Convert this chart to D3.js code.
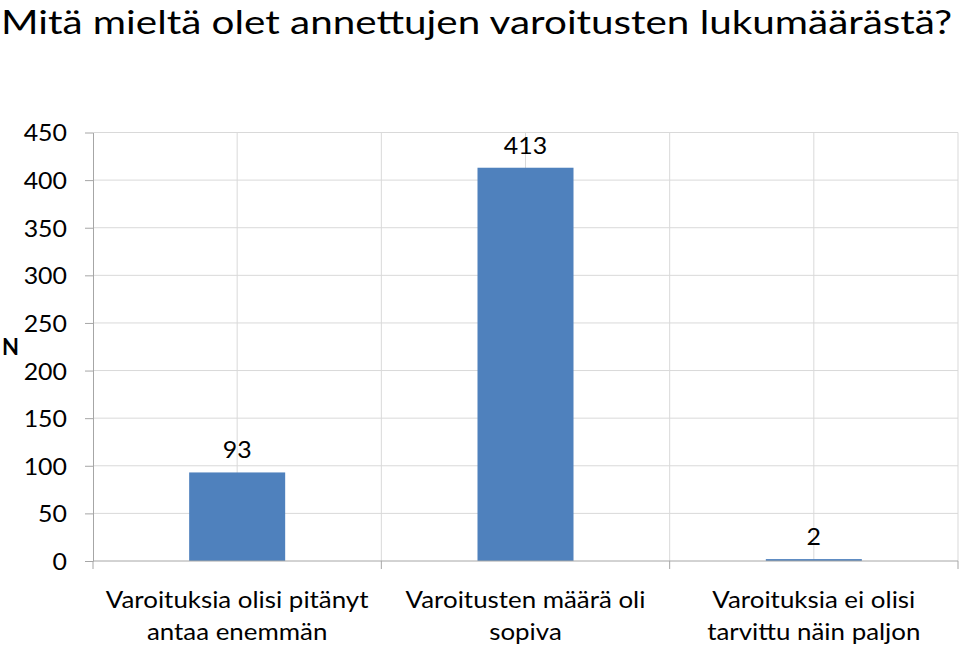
<!DOCTYPE html>
<html><head><meta charset="utf-8">
<script src="https://cdnjs.cloudflare.com/ajax/libs/d3/7.8.5/d3.min.js"></script>
<style>body{margin:0;background:#fff}svg{display:block}text{font-family:Lato,"Open Sans",sans-serif;fill:#000}</style>
</head><body>
<svg id="c" width="960" height="647"></svg>
<script>
const title = "Mitä mieltä olet annettujen varoitusten lukumäärästä?";
const categories = [
  ["Varoituksia olisi pitänyt", "antaa enemmän"],
  ["Varoitusten määrä oli", "sopiva"],
  ["Varoituksia ei olisi", "tarvittu näin paljon"]
];
const values = [93, 413, 2];
const yTicks = [0, 50, 100, 150, 200, 250, 300, 350, 400, 450];
const yTitle = "N";

const svg = d3.select("#c");
const L = 93, R = 958, T = 132.5, B = 561;
const x = d3.scaleBand().domain(d3.range(categories.length)).range([L, R]).paddingInner(0).paddingOuter(0);
const y = d3.scaleLinear().domain([0, 450]).range([B, T]);
const bw = x.bandwidth() * 96 / 288.3;

function stretch(sel, k) {
  sel.each(function () {
    const len = this.getComputedTextLength();
    d3.select(this).attr("textLength", len * k).attr("lengthAdjust", "spacingAndGlyphs");
  });
}

// horizontal gridlines
svg.append("g").selectAll("line").data(yTicks.filter(d => d > 0)).join("line")
  .attr("x1", L).attr("x2", R).attr("y1", d => y(d)).attr("y2", d => y(d))
  .attr("stroke", "#d9d9d9").attr("stroke-width", 1);
// vertical gridlines: centers and boundaries
const vlines = [];
categories.forEach((c, i) => { vlines.push(x(i) + x.bandwidth() / 2); vlines.push(x(i) + x.bandwidth()); });
svg.append("g").selectAll("line").data(vlines).join("line")
  .attr("x1", d => d).attr("x2", d => d).attr("y1", T).attr("y2", B)
  .attr("stroke", "#d9d9d9").attr("stroke-width", 1);

// bars
svg.append("g").selectAll("rect").data(values).join("rect")
  .attr("x", (d, i) => x(i) + x.bandwidth() / 2 - bw / 2)
  .attr("width", bw)
  .attr("y", d => y(d))
  .attr("height", d => Math.max(1.5, B - y(d)))
  .attr("fill", "#4f81bd");

// y axis
const ya = svg.append("g").attr("transform", `translate(${L},0)`)
  .call(d3.axisLeft(y).tickValues(yTicks).tickSize(8).tickSizeOuter(0).tickPadding(18));
ya.select(".domain").attr("stroke", "#a6a6a6");
ya.selectAll(".tick line").attr("stroke", "#a6a6a6");
ya.selectAll(".tick text").attr("font-size", 23.5).attr("font-family", "Lato").attr("fill", "#000").attr("dy", "0.36em");
stretch(ya.selectAll(".tick text"), 1.06);

// x axis
const xa = svg.append("g").attr("transform", `translate(0,${B})`);
xa.append("line").attr("x1", L).attr("x2", R).attr("stroke", "#a6a6a6");
xa.selectAll(".xt").data([L, ...categories.map((c, i) => x(i) + x.bandwidth())]).join("line")
  .attr("x1", d => d).attr("x2", d => d).attr("y1", 0).attr("y2", 8).attr("stroke", "#a6a6a6");

// category labels
const catG = svg.append("g");
categories.forEach((c, i) => {
  c.forEach((ln, j) => {
    catG.append("text").attr("x", x(i) + x.bandwidth() / 2).attr("y", 608 + j * 32)
      .attr("text-anchor", "middle").attr("font-size", 22.5).text(ln);
  });
});
stretch(catG.selectAll("text"), 1.15);

// data labels
const dl = svg.append("g").selectAll("text").data(values).join("text")
  .attr("x", (d, i) => x(i) + x.bandwidth() / 2)
  .attr("y", d => y(d) - 14)
  .attr("text-anchor", "middle").attr("font-size", 23.5).text(d => d);
stretch(dl, 1.06);

// y title
svg.append("text").attr("x", 10.5).attr("y", 355).attr("text-anchor", "middle")
  .attr("font-size", 22).attr("font-weight", "bold").text(yTitle);

// title
svg.append("text").attr("x", 1).attr("y", 33.5).attr("font-size", 33.5)
  .attr("textLength", 951).attr("lengthAdjust", "spacingAndGlyphs").text(title);
</script>
</body></html>
